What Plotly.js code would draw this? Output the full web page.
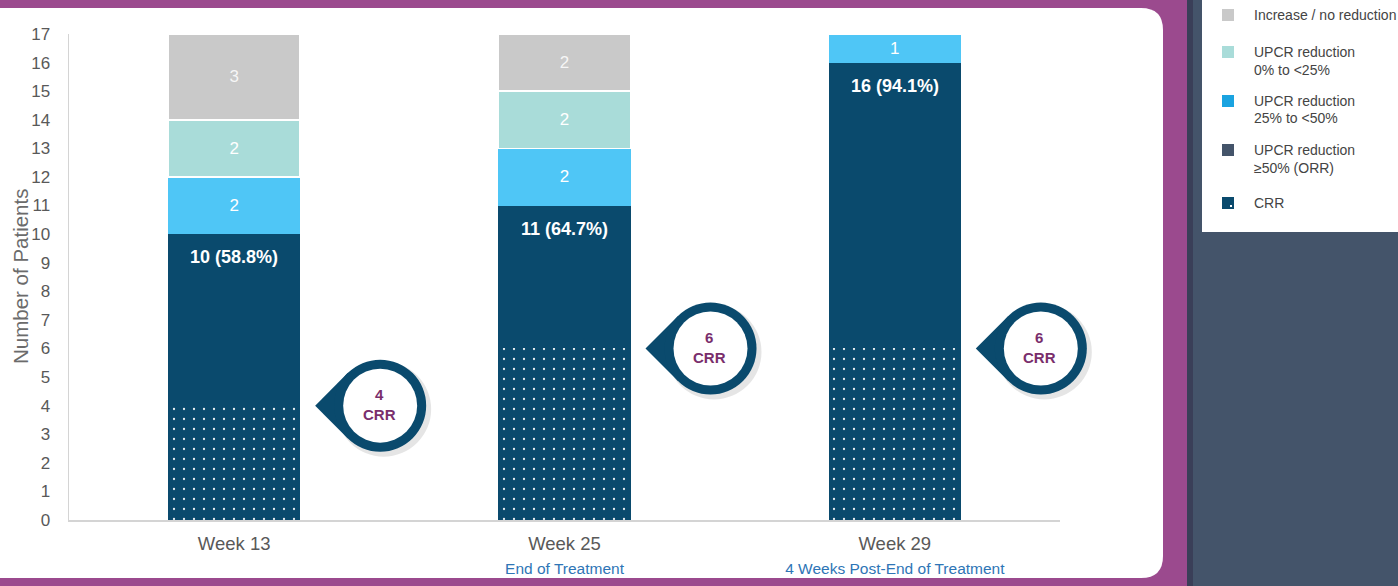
<!DOCTYPE html>
<html><head><meta charset="utf-8">
<script src="https://cdn.plot.ly/plotly-3.0.1.min.js"></script>
<style>html,body{margin:0;padding:0;background:#44546a;overflow:hidden}#chart{width:1398px;height:586px}</style>
</head><body><div id="chart"></div>
<script>
// ---- data ----
const categories = ['Week 13', 'Week 25', 'Week 29'];
const subtitles = ['', 'End of Treatment', '4 Weeks Post-End of Treatment'];
const crr = [4, 6, 6];
const orrTotal = [10, 11, 16];
const orrPct = ['58.8%', '64.7%', '94.1%'];
const upcr25to50 = [2, 2, 1];
const upcr0to25 = [2, 2, 0];
const noReduction = [3, 2, 0];
const yTickVals = [0,1,2,3,4,5,6,7,8,9,10,11,12,13,14,15,16,17];
const yTitle = 'Number of Patients';
const legendNames = [['Increase / no reduction'], ['UPCR reduction', '0% to <25%'], ['UPCR reduction', '25% to <50%'], ['UPCR reduction', '≥50% (ORR)'], ['CRR']];

// ---- style ----
const NAVY = '#0a4a6d', SKY = '#4fc6f6', TEAL = '#a9dcd9', GRAY = '#c9c9c9';
const FONT = 'Liberation Sans, Arial, sans-serif';
const L = 69, R = 1060, T = 34, B = 520;
const PX = x => (x - L) / (R - L);
const PY = y => (B - y) / (B - T);

const orrOnly = orrTotal.map((v, i) => v - crr[i]);
const lbl = arr => arr.map(v => v > 0 ? String(v) : '');

const segFont = {family: FONT, size: 17, color: '#ffffff'};
const traces = [
  {type: 'bar', name: 'CRR', x: categories, y: crr, width: 0.4,
   marker: {color: NAVY, line: {width: 0}, pattern: {shape: '.', fgcolor: '#ffffff', fgopacity: 0.9, size: 10, solidity: 0.04, fillmode: 'overlay'}},
   hoverinfo: 'skip'},
  {type: 'bar', name: 'UPCR reduction ≥50% (ORR)', x: categories, y: orrOnly, width: 0.4,
   marker: {color: NAVY, line: {width: 0}}, hoverinfo: 'skip'},
  {type: 'bar', name: 'UPCR reduction 25% to <50%', x: categories, y: upcr25to50, width: 0.4,
   marker: {color: SKY, line: {width: 0}}, text: lbl(upcr25to50), textposition: 'inside',
   insidetextanchor: 'middle', textangle: 0, insidetextfont: segFont, hoverinfo: 'skip'},
  {type: 'bar', name: 'UPCR reduction 0% to <25%', x: categories, y: upcr0to25, width: 0.4,
   marker: {color: TEAL, line: {width: 1.5, color: '#ffffff'}}, text: lbl(upcr0to25), textposition: 'inside',
   insidetextanchor: 'middle', textangle: 0, insidetextfont: segFont, hoverinfo: 'skip'},
  {type: 'bar', name: 'Increase / no reduction', x: categories, y: noReduction, width: 0.4,
   marker: {color: GRAY, line: {width: 1.5, color: '#ffffff'}}, text: lbl(noReduction), textposition: 'inside',
   insidetextanchor: 'middle', textangle: 0, insidetextfont: {family: FONT, size: 17, color: 'rgba(255,255,255,0.85)'}, hoverinfo: 'skip'}
];

const shapes = [];
const annotations = [];

// background frame
shapes.push({type: 'rect', xref: 'paper', yref: 'paper', x0: PX(-5), x1: PX(1190), y0: PY(592), y1: PY(-6), fillcolor: '#9b4a8e', line: {width: 0}, layer: 'below'});
shapes.push({type: 'rect', xref: 'paper', yref: 'paper', x0: PX(1187), x1: PX(1193), y0: PY(592), y1: PY(-6), fillcolor: '#3a3f58', line: {width: 0}, layer: 'below'});
{
  const p = (x, y) => PX(x) + ',' + PY(y);
  const path = 'M' + p(-5, 8) + ' L' + p(1141, 8) + ' Q' + p(1163, 8) + ' ' + p(1163, 30) +
    ' L' + p(1163, 556) + ' Q' + p(1163, 578) + ' ' + p(1141, 578) + ' L' + p(-5, 578) + ' Z';
  shapes.push({type: 'path', xref: 'paper', yref: 'paper', path: path, fillcolor: '#ffffff', line: {width: 0}, layer: 'below'});
}

// y-axis title
annotations.push({xref: 'paper', yref: 'paper', x: PX(20), y: 0.5, textangle: -90, showarrow: false,
  xanchor: 'center', yanchor: 'middle', text: yTitle, font: {family: FONT, size: 20.5, color: '#6b6b6b'}});

// legend box
shapes.push({type: 'rect', xref: 'paper', yref: 'paper', x0: PX(1202), x1: PX(1405), y0: PY(232), y1: PY(-5), fillcolor: '#ffffff', line: {width: 0}, layer: 'below'});
const swatchColors = [GRAY, TEAL, '#1aa3e0', '#44546a', NAVY];
const swatchY = [15, 52, 101, 150, 203];
legendNames.forEach((lines, i) => {
  const cy = swatchY[i];
  shapes.push({type: 'rect', xref: 'paper', yref: 'paper', x0: PX(1222), x1: PX(1234), y0: PY(cy + 6), y1: PY(cy - 6), fillcolor: swatchColors[i], line: {width: 0}});
  if (i === 4) {
    shapes.push({type: 'rect', xref: 'paper', yref: 'paper', x0: PX(1230), x1: PX(1232), y0: PY(cy + 4), y1: PY(cy + 2), fillcolor: '#ffffff', line: {width: 0}});
  }
  lines.forEach((t, k) => {
    annotations.push({xref: 'paper', yref: 'paper', x: PX(1252), y: PY(cy + k * 17.5), xanchor: 'left', yanchor: 'middle',
      text: t.replace(/</g, '&lt;'), showarrow: false, font: {family: FONT, size: 14, color: '#444444'}});
  });
});

// callouts (4 / 6 / 6 CRR)
const n = categories.length;
categories.forEach((c, i) => {
  const base = {xref: 'paper', yref: 'y', xsizemode: 'pixel', ysizemode: 'pixel', xanchor: (i + 0.5) / n, yanchor: crr[i], layer: 'above'};
  const cx = 146, r = 46, ri = 37, tip = 81;
  shapes.push(Object.assign({}, base, {type: 'circle', x0: cx - r + 2, x1: cx + r + 5, y0: -r - 5, y1: r - 2, fillcolor: 'rgba(0,0,0,0.10)', line: {width: 0}}));
  const t = r * Math.SQRT1_2;
  shapes.push(Object.assign({}, base, {type: 'path', path: `M${tip},0 L${cx - t},${t} L${cx},0 L${cx - t},${-t} Z`, fillcolor: NAVY, line: {width: 0}}));
  shapes.push(Object.assign({}, base, {type: 'circle', x0: cx - r, x1: cx + r, y0: -r, y1: r, fillcolor: NAVY, line: {width: 0}}));
  shapes.push(Object.assign({}, base, {type: 'circle', x0: cx - ri, x1: cx + ri, y0: -ri, y1: ri, fillcolor: '#ffffff', line: {width: 0}}));
  annotations.push({x: c, y: crr[i], xref: 'x', yref: 'y', xshift: cx - 1, yshift: 1, showarrow: false,
    text: '<b>' + crr[i] + '</b><br><b>CRR</b>', font: {family: FONT, size: 15, color: '#7a2e6c'}, align: 'center'});
  // ORR label
  annotations.push({x: c, y: orrTotal[i], xref: 'x', yref: 'y', yshift: -23, yanchor: 'middle', showarrow: false,
    text: '<b>' + orrTotal[i] + ' (' + orrPct[i] + ')</b>', font: {family: FONT, size: 18, color: '#ffffff'}});
});

const tickText = categories.map((c, i) => '<span style="font-size:18.5px">' + c + '</span>' +
  (subtitles[i] ? '<br><span style="font-size:15.5px;fill:#2e75b6">' + subtitles[i] + '</span>' : ''));

const layout = {
  width: 1398, height: 586,
  margin: {l: L, r: 1398 - R, t: T, b: 586 - B, pad: 0},
  paper_bgcolor: '#44546a', plot_bgcolor: 'rgba(0,0,0,0)',
  barmode: 'stack', showlegend: false,
  font: {family: FONT, color: '#595959'},
  xaxis: {type: 'category', range: [-0.5, n - 0.5], tickvals: categories, ticktext: tickText,
    tickfont: {family: FONT, size: 18, color: '#595959'}, ticks: 'outside', ticklen: 7, tickcolor: 'rgba(0,0,0,0)',
    showline: true, linecolor: '#d4d4d4', linewidth: 1.5, showgrid: false, zeroline: false, fixedrange: true},
  yaxis: {range: [0, 17], tickvals: yTickVals, ticktext: yTickVals.map(String),
    tickfont: {family: FONT, size: 17, color: '#595959'}, ticks: 'outside', ticklen: 14, tickcolor: 'rgba(0,0,0,0)',
    showline: true, linecolor: '#d4d4d4', linewidth: 1.5, showgrid: false, zeroline: false, fixedrange: true},
  shapes: shapes, annotations: annotations
};

Plotly.newPlot('chart', traces, layout, {displayModeBar: false, staticPlot: true});
</script></body></html>
